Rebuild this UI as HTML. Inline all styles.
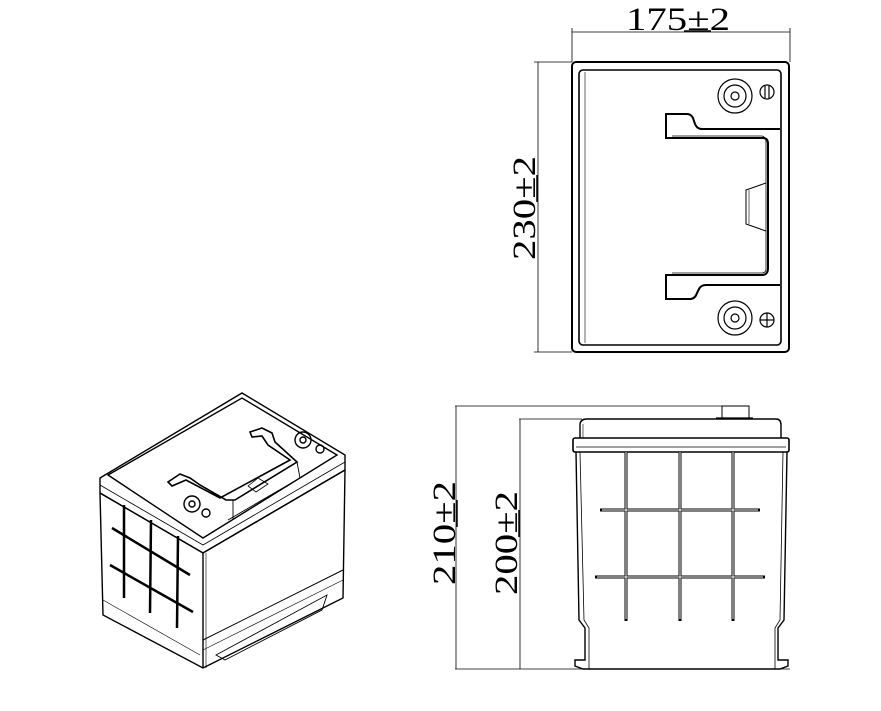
<!DOCTYPE html>
<html><head><meta charset="utf-8"><style>
html,body{margin:0;padding:0;background:#fff;width:881px;height:711px;overflow:hidden}
svg{display:block}
text{font-family:"Liberation Serif",serif;fill:#000}
</style></head><body>
<svg width="881" height="711" viewBox="0 0 881 711" fill="none" stroke="#000" stroke-width="1.2">
<!-- TOP VIEW -->
<line x1="572" y1="32" x2="790" y2="32" stroke-width="0.8"/>
<line x1="572" y1="28" x2="572" y2="62" stroke-width="0.8"/>
<line x1="790" y1="28" x2="790" y2="62" stroke-width="0.8"/>
<text x="626" y="30" font-size="33" stroke="none" textLength="104" lengthAdjust="spacingAndGlyphs">175±2</text>
<line x1="684" y1="31" x2="711" y2="31" stroke-width="1.5"/>
<line x1="538" y1="62" x2="538" y2="352" stroke-width="0.8"/>
<line x1="534" y1="62" x2="572" y2="62" stroke-width="0.8"/>
<line x1="534" y1="352" x2="572" y2="352" stroke-width="0.8"/>
<text transform="translate(535,260) rotate(-90)" font-size="33" stroke="none" textLength="104" lengthAdjust="spacingAndGlyphs">230±2</text>
<line x1="537" y1="202" x2="537" y2="175" stroke-width="1.5"/>
<rect x="572" y="62" width="217" height="290" rx="4" stroke-width="2"/>
<rect x="579" y="70" width="202" height="275" rx="4" stroke-width="1.6"/>
<line x1="585" y1="72" x2="585" y2="343" stroke-width="0.6"/>
<circle cx="735" cy="96" r="17"/><circle cx="735" cy="96" r="11"/><circle cx="735" cy="96" r="4"/>
<circle cx="767" cy="92" r="7"/><line x1="765" y1="86" x2="765" y2="98"/><line x1="769" y1="86" x2="769" y2="98"/>
<circle cx="735" cy="318" r="17"/><circle cx="735" cy="318" r="11"/><circle cx="735" cy="318" r="4"/>
<circle cx="767" cy="320" r="7"/><line x1="767" y1="313" x2="767" y2="327"/><line x1="760" y1="320" x2="774" y2="320"/>
<path d="M780 129 H702 Q697 129 695 124 L693 118 Q691 114 687 114 H666 V138 H763 Q768 138 768 144 V268 Q768 275 762 275 H666 V299 H690 Q695 299 697 293 L699 289 Q701 285 706 285 H780" stroke-width="2"/>
<path d="M672 136 H762 Q766 137 766 142 V270 Q765 273 762 273 H672" stroke-width="0.8"/>
<path d="M766 183 L746 190 V224 L766 231" stroke-width="1"/>
<line x1="749" y1="190" x2="749" y2="224" stroke-width="0.6"/>
<!-- FRONT VIEW -->
<line x1="455" y1="406" x2="745" y2="406" stroke-width="0.8"/>
<line x1="456" y1="406" x2="456" y2="669" stroke-width="0.8"/>
<line x1="520" y1="419" x2="520" y2="669" stroke-width="0.8"/>
<line x1="519" y1="419" x2="582" y2="419" stroke-width="0.8"/>
<line x1="455" y1="669" x2="790" y2="669" stroke-width="0.8"/>
<text transform="translate(455,585) rotate(-90)" font-size="33" stroke="none" textLength="104" lengthAdjust="spacingAndGlyphs">210±2</text>
<line x1="457" y1="527" x2="457" y2="500" stroke-width="1.5"/>
<text transform="translate(517,595) rotate(-90)" font-size="33" stroke="none" textLength="104" lengthAdjust="spacingAndGlyphs">200±2</text>
<line x1="519" y1="537" x2="519" y2="510" stroke-width="1.5"/>
<rect x="722" y="406" width="27" height="12" stroke-width="1"/>
<line x1="716" y1="418" x2="753" y2="418"/>
<path d="M580 438 V425 Q580 419 587 419 H776 Q781 419 781 425 V438" stroke-width="1.4"/>
<line x1="583" y1="438" x2="583" y2="424" stroke-width="0.6"/>
<rect x="573" y="438" width="216" height="14" rx="2" stroke-width="1.6"/>
<line x1="576" y1="447" x2="786" y2="447" stroke-width="0.8"/>
<path d="M576 452 L579 620 L585 628 V660 L575 660 V666 L583 669 H780 L788 666 V660 L778 660 V628 L784 620 L787 452" stroke-width="1.4"/>
<path d="M580 452 L584 620 L589 628 V669 M783 452 L780 620 L775 628 V669" stroke-width="0.8"/>
<g stroke-width="3"><line x1="626" y1="452" x2="626" y2="621"/><line x1="680" y1="452" x2="680" y2="621"/><line x1="733" y1="452" x2="733" y2="621"/>
<line x1="600" y1="510" x2="760" y2="510"/><line x1="595" y1="577" x2="765" y2="577"/></g>
<g stroke="#fff" stroke-width="1"><line x1="626" y1="452" x2="626" y2="619"/><line x1="680" y1="452" x2="680" y2="619"/><line x1="733" y1="452" x2="733" y2="619"/>
<line x1="602" y1="510" x2="758" y2="510"/><line x1="597" y1="577" x2="763" y2="577"/></g>
<!-- ISO VIEW -->
<g stroke-width="1.4">
<path d="M100 478 L242 393 L345 455 L345 470 L203 553 L100 493 Z" fill="#fff"/>
<path d="M108 475 L242 398 L337 455 L203 538 Z"/>
<path d="M100 493 L203 553 L345 470"/>
<path d="M100 485 L203 545 L345 462" stroke-width="0.8"/>
<path d="M100 493 L103 615 L203 668 L343 598 L345 470"/>
<path d="M203 553 V668"/>
<path d="M206 553 V668" stroke-width="0.6"/>
<path d="M203 640 L343 570" stroke-width="1"/>
<path d="M203 650 L343 580" stroke-width="0.6"/>
<path d="M216 655 L327 595 L322 610 L225 660 Z" stroke-width="0.9"/>
<path d="M103 600 L200 655" stroke-width="0.6"/>
<path d="M233 500 L233 520 M297 462 L300 478 M228 520 L300 478" stroke-width="0.9"/>
<path d="M250 432 L262 428 L272 433 L275 442 L297 462 L235 500 L226 500 L200 485 L190 478 L180 474 L168 482 L172 486 L186 480 L220 498 L290 460 L268 445 L262 436 L252 437 Z" stroke-width="1.6"/>
<path d="M248 486 L258 478 L268 484 L256 492 Z" stroke-width="0.8"/>
<circle cx="303" cy="440" r="8"/><circle cx="303" cy="440" r="3"/>
<circle cx="192" cy="504" r="8"/><circle cx="192" cy="504" r="3"/>
<circle cx="206" cy="513" r="4"/><circle cx="320" cy="449" r="4"/>
</g>
<g stroke-width="2.5">
<line x1="124" y1="505" x2="124" y2="598"/><line x1="151" y1="520" x2="150" y2="613"/><line x1="178" y1="536" x2="177" y2="628"/>
<line x1="112" y1="528" x2="190" y2="575"/><line x1="110" y1="565" x2="193" y2="612"/>
</g>
</svg>
</body></html>
